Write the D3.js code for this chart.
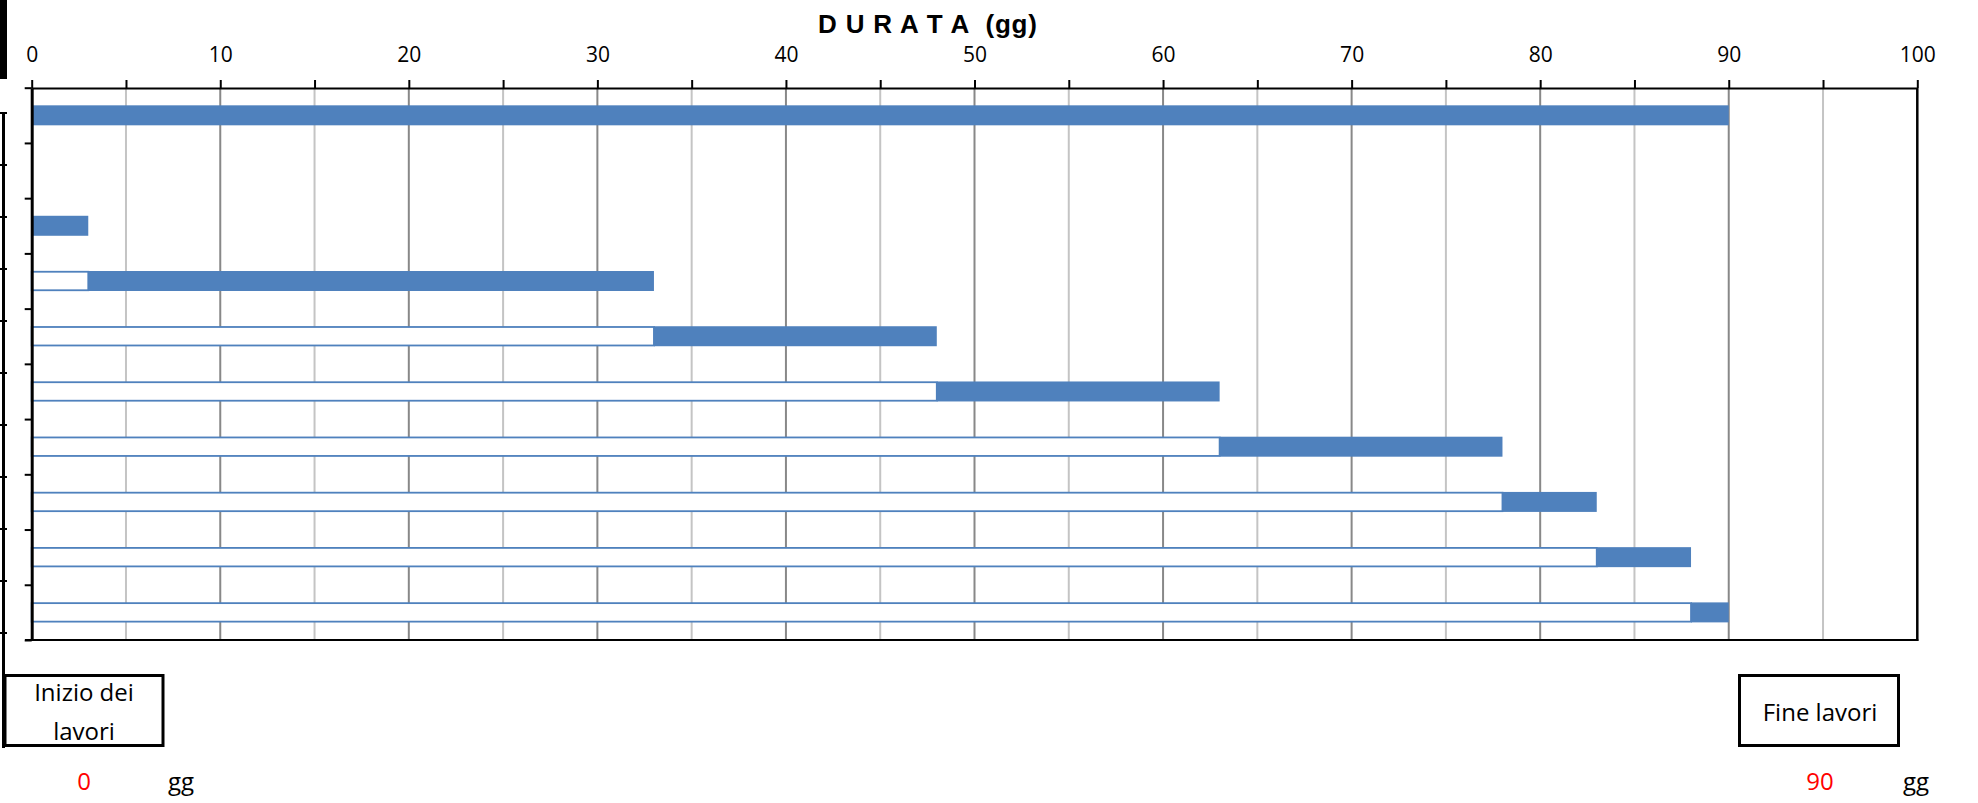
<!DOCTYPE html>
<html>
<head>
<meta charset="utf-8">
<script src="https://cdn.jsdelivr.net/npm/d3@7"></script>
<style>
  body { margin: 0; background: #fff; }
  svg { display: block; }
</style>
</head>
<body>
<div id="chart"></div>
<script>
// fasi del cronoprogramma (righe del diagramma, dall'alto)
const fasi = ["1", "2", "3", "4", "5", "6", "7", "8", "9", "10"];
// giorno di inizio di ogni fase (barra bianca) e durata (barra blu)
const inizio = [0, null, 0, 3, 33, 48, 63, 78, 83, 88];
const durata = [90, null, 3, 30, 15, 15, 15, 5, 5, 2];
const tickAsse = [0, 10, 20, 30, 40, 50, 60, 70, 80, 90, 100];
const giorniInizio = 0;
const giorniFine = 90;

const width = 1978;
const height = 803;
const BLU = "#4F81BD";

const svg = d3.select("#chart").append("svg")
    .attr("width", width)
    .attr("height", height);

const x = d3.scaleLinear().domain([0, 100]).range([31.7, 1917.3]);
const y = d3.scaleBand().domain(fasi).range([87.7, 640])
    .paddingInner(0.638).paddingOuter(0.319);
const yBordi = d3.scaleLinear().domain([0, fasi.length]).range([87.7, 640]);

// bordo del foglio a sinistra (celle tagliate)
svg.append("rect").attr("x", 0).attr("y", 0).attr("width", 7).attr("height", 79).attr("fill", "#000");
svg.append("line").attr("x1", 3.5).attr("x2", 3.5).attr("y1", 112).attr("y2", 748)
    .attr("stroke", "#000").attr("stroke-width", 3);
svg.append("g").selectAll("line").data(d3.range(11)).enter().append("line")
    .attr("x1", 0).attr("x2", 7)
    .attr("y1", i => 113 + i * 52).attr("y2", i => 113 + i * 52)
    .attr("stroke", "#000").attr("stroke-width", 2);

// griglia verticale ogni 5 giorni
const griglia = d3.range(5, 100, 5);
svg.append("g").selectAll("line").data(griglia).enter().append("line")
    .attr("x1", d => x(d)).attr("x2", d => x(d))
    .attr("y1", 88).attr("y2", 640)
    .attr("stroke", d => d % 10 === 0 ? "#888888" : "#c4c4c4")
    .attr("stroke-width", 2);

// barre: parte bianca fino all'inizio, parte blu per la durata
const righe = fasi.map((f, i) => ({ fase: f, inizio: inizio[i], durata: durata[i] }))
    .filter(d => d.durata != null);

svg.append("g").selectAll("rect").data(righe.filter(d => d.inizio > 0)).enter().append("rect")
    .attr("x", x(0))
    .attr("y", d => y(d.fase) + 0.75)
    .attr("width", d => x(d.inizio) - x(0))
    .attr("height", y.bandwidth() - 1.5)
    .attr("fill", "#fff")
    .attr("stroke", BLU)
    .attr("stroke-width", 1.8);

svg.append("g").selectAll("rect").data(righe).enter().append("rect")
    .attr("x", d => x(d.inizio))
    .attr("y", d => y(d.fase))
    .attr("width", d => x(d.inizio + d.durata) - x(d.inizio))
    .attr("height", y.bandwidth())
    .attr("fill", BLU);

// asse superiore
const asseX = d3.axisTop(x)
    .tickValues(d3.range(0, 101, 5))
    .tickFormat(d => tickAsse.includes(d) ? d : "")
    .tickSizeInner(8).tickSizeOuter(0).tickPadding(18);
const gx = svg.append("g").attr("transform", "translate(0,88)").call(asseX);
gx.select(".domain").attr("stroke", "#000").attr("stroke-width", 2);
gx.selectAll(".tick line").attr("stroke", "#000").attr("stroke-width", 2);
gx.selectAll(".tick text")
    .attr("font-family", "'Open Sans', sans-serif").attr("font-size", 21).attr("fill", "#000");

// asse sinistro (solo tacche ai bordi delle righe)
const asseY = d3.axisLeft(yBordi).tickValues(d3.range(0, fasi.length + 1))
    .tickFormat("").tickSizeInner(7).tickSizeOuter(0);
const gy = svg.append("g").attr("transform", "translate(31.7,0)").call(asseY);
gy.select(".domain").attr("stroke", "#000").attr("stroke-width", 3);
gy.selectAll(".tick line").attr("stroke", "#000").attr("stroke-width", 2);

// bordo destro e inferiore
svg.append("line").attr("x1", x(100)).attr("x2", x(100)).attr("y1", 88).attr("y2", 641)
    .attr("stroke", "#000").attr("stroke-width", 2.5);
svg.append("line").attr("x1", 25).attr("x2", x(100) + 1).attr("y1", 640).attr("y2", 640)
    .attr("stroke", "#000").attr("stroke-width", 2);

// titolo
svg.append("text").attr("x", 818).attr("y", 33)
    .attr("font-family", "'Liberation Sans', Arial, sans-serif")
    .attr("font-weight", "bold").attr("font-size", 26).attr("fill", "#000")
    .attr("textLength", 219).attr("lengthAdjust", "spacing")
    .style("white-space", "pre")
    .text("D U R A T A  (gg)");

// riquadri inizio / fine lavori
svg.append("rect").attr("x", 5).attr("y", 675.5).attr("width", 158).attr("height", 70)
    .attr("fill", "none").attr("stroke", "#000").attr("stroke-width", 3);
svg.append("rect").attr("x", 1739.5).attr("y", 675.5).attr("width", 159).attr("height", 70)
    .attr("fill", "none").attr("stroke", "#000").attr("stroke-width", 3);

const testo = (tx, ty, t, col, anchor) => svg.append("text")
    .attr("x", tx).attr("y", ty).attr("text-anchor", anchor || "middle")
    .attr("font-family", "'Open Sans', sans-serif").attr("font-size", 24)
    .attr("fill", col || "#000").text(t);

testo(84, 701, "Inizio dei");
testo(84, 740, "lavori");
testo(1820, 721, "Fine lavori");
testo(84, 790, giorniInizio, "#ff0000");
testo(168, 790, "gg", "#000", "start");
testo(1820, 790, giorniFine, "#ff0000");
testo(1903, 790, "gg", "#000", "start");
</script>
</body>
</html>
